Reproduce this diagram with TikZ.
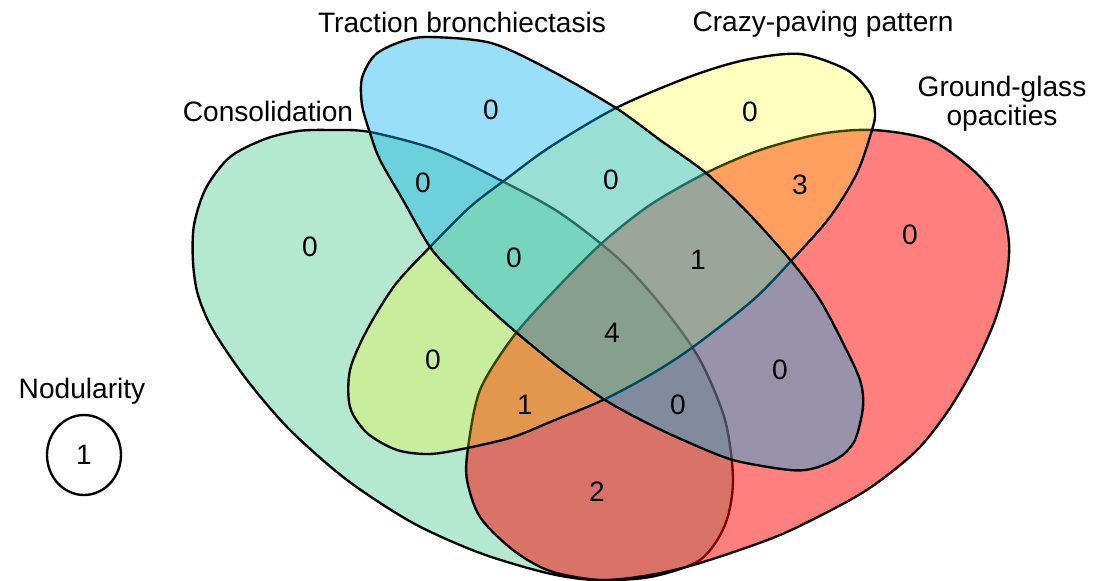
\documentclass[tikz,border=0pt]{standalone}
\usepackage{fontspec}
\setmainfont{Liberation Sans}
\usepackage{tikz}
\usetikzlibrary{shapes.geometric}
\definecolor{consgreen}{RGB}{70,197,137}
\definecolor{tracblue}{RGB}{0,176,240}
\definecolor{crazyyellow}{RGB}{255,255,0}
\definecolor{groundred}{RGB}{255,0,0}
\tikzset{
    setline/.style={draw=black, line width=1.35pt},
    setlabel/.style={font=\fontsize{16}{17}\selectfont, align=center, anchor=base, inner sep=0pt},
    count/.style={font=\fontsize{16}{17}\selectfont, inner sep=0pt},
}

\begin{document}
\begin{tikzpicture}[x=0.02cm, y=-0.02cm]
            \useasboundingbox (0,0) rectangle (1095,581);
            \draw[setline, fill=consgreen, fill opacity=0.4] plot[smooth cycle] coordinates {(330,130) (298,131) (265,139) (230,157) (206,188) (194,225) (193,262) (198,295) (213,330) (247,380) (290,430) (347,480) (413,523) (480,553) (547,573) (595,580) (650,577) (700,560) (725,525) (733,480) (725,420) (700,360) (665,310) (620,260) (560,213) (500,180) (437,150) (370,132)};
            \draw[setline, fill=groundred, fill opacity=0.5] plot[smooth cycle] coordinates {(873,130) (930,140) (973,170) (1000,203) (1009,243) (1006,280) (995,320) (975,365) (950,408) (920,447) (885,477) (850,500) (780,535) (700,563) (650,575) (600,580) (550,571) (513,550) (480,517) (467,480) (468,448) (480,390) (513,337) (555,290) (602,243) (650,205) (706,173) (760,150) (820,134)};
            \draw[setline, fill=crazyyellow, fill opacity=0.25] plot[smooth cycle] coordinates {(800,54) (847,70) (870,93) (875,113) (872,130) (857,173) (830,217) (792,260) (753,300) (693,347) (650,375) (603,400) (555,420) (513,437) (467,448) (430,454) (397,450) (367,433) (350,407) (350,370) (367,330) (395,285) (430,247) (470,207) (505,180) (550,147) (616,108) (689,77) (745,60)};
            \draw[setline, fill=tracblue, fill opacity=0.4] plot[smooth cycle] coordinates {(428,37) (491,43) (550,70) (616,108) (660,140) (706,173) (750,215) (792,262) (820,300) (843,343) (860,380) (863,407) (855,440) (840,457) (815,468) (790,470) (733,460) (683,440) (645,422) (605,400) (560,368) (517,333) (480,300) (455,275) (430,247) (403,200) (380,160) (370,133) (362,105) (362,78) (375,55) (400,42)};
            \node[setlabel] (cons) at (268,122) {Consolidation};
            \node[setlabel] (trac) at (462,33) {Traction bronchiectasis};
            \node[setlabel] (crazy) at (823,32) {Crazy-paving pattern};
            \node[setlabel] (ground) at (1002,126) {Ground-glass\\opacities};
            \node[setlabel] (nodul) at (82,398) {Nodularity};
            \node[count] (c-g) at (310,247) {0};
            \node[count] (c-b) at (491,110) {0};
            \node[count] (c-y) at (750,112) {0};
            \node[count] (c-r) at (910,235) {0};
            \node[count] (c-gb) at (423,183) {0};
            \node[count] (c-by) at (611,180) {0};
            \node[count] (c-yr) at (800,185) {3};
            \node[count] (c-gby) at (514,258) {0};
            \node[count] (c-byr) at (698,260) {1};
            \node[count] (c-gy) at (433,360) {0};
            \node[count] (c-all) at (612,333) {4};
            \node[count] (c-br) at (780,370) {0};
            \node[count] (c-gyr) at (525,405) {1};
            \node[count] (c-gbr) at (678,405) {0};
            \node[count] (c-gr) at (597,492) {2};
            \node[count, draw, line width=1.35pt, ellipse, minimum width=1.48cm, minimum height=1.6cm] (c-none) at (84,455) {1};
        \end{tikzpicture}
\end{document}
